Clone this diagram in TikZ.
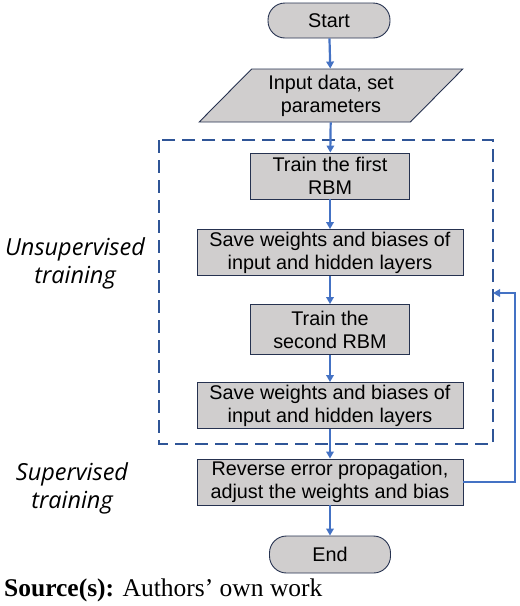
\documentclass[tikz,border=0pt]{standalone}
\usepackage{fontspec}
\setmainfont{Liberation Sans}
\newfontfamily\labfont{Open Sans}
\newfontfamily\srcfont{Liberation Serif}
\usetikzlibrary{arrows.meta,shapes.geometric}
\definecolor{boxfill}{RGB}{208,206,206}
\definecolor{boxline}{RGB}{38,50,80}
\definecolor{arrowblue}{RGB}{68,114,196}
\definecolor{dashblue}{RGB}{47,85,151}
\begin{document}
\begin{tikzpicture}[x=1pt,y=-1pt,
  every node/.style={font=\fontsize{19.8}{23}\selectfont, align=center, inner sep=0pt},
  procbox/.style={draw=boxline, fill=boxfill, line width=0.9pt, rectangle},
  termbox/.style={draw=boxline, fill=boxfill, line width=0.9pt, rectangle, rounded corners=17pt},
  iobox/.style={draw=boxline, fill=boxfill, line width=0.9pt, trapezium, trapezium left angle=45, trapezium right angle=135, trapezium stretches=true},
  flow/.style={draw=arrowblue, line width=2.2pt, -{Triangle[length=7pt,width=7.5pt]}},
  sidelabel/.style={font=\labfont\itshape\fontsize{23.5}{28}\selectfont}
]
\useasboundingbox (0,0) rectangle (520,606);
% dashed frame
\draw[dashblue, line width=1.9pt, dash pattern=on 13pt off 7pt] (159,140) rectangle (493,444);
\node[termbox, minimum width=122pt, minimum height=35pt] (start) at (329,20.5) {Start};
\node[iobox, minimum width=264pt, minimum height=53pt] (input) at (331,95.5) {Input data, set\\parameters};
\node[procbox, minimum width=159pt, minimum height=46pt] (train1) at (330,176) {Train the first\\RBM};
\node[procbox, minimum width=266pt, minimum height=46pt] (save1) at (330,252.5) {Save weights and biases of\\input and hidden layers};
\node[procbox, minimum width=159pt, minimum height=50pt] (train2) at (330,329.5) {Train the\\second RBM};
\node[procbox, minimum width=266pt, minimum height=46pt] (save2) at (330,405.5) {Save weights and biases of\\input and hidden layers};
\node[procbox, minimum width=266pt, minimum height=46pt] (rev) at (330,482) {Reverse error propagation,\\adjust the weights and bias};
\node[termbox, minimum width=121pt, minimum height=37pt] (end) at (330,554.5) {End};
\coordinate (fbA) at (515,482);
\coordinate (fbB) at (515,293);
\coordinate (fbC) at (493,293);
\draw[flow] (start) -- (input);
\draw[flow] (input) -- (train1);
\draw[flow] (train1) -- (save1);
\draw[flow] (save1) -- (train2);
\draw[flow] (train2) -- (save2);
\draw[flow] (save2) -- (rev);
\draw[flow] (rev) -- (end);
\draw[flow] (rev.east) -- (fbA) -- (fbB) -- (fbC);
\node[sidelabel] (unsup) at (75,263) {Unsupervised\\training};
\node[sidelabel] (sup) at (72,488) {Supervised\\training};
\node[anchor=base west, font=\srcfont\fontsize{25.5}{28}\selectfont] (src) at (4,596) {\textbf{Source(s):} Authors’ own work};
\end{tikzpicture}
\end{document}
